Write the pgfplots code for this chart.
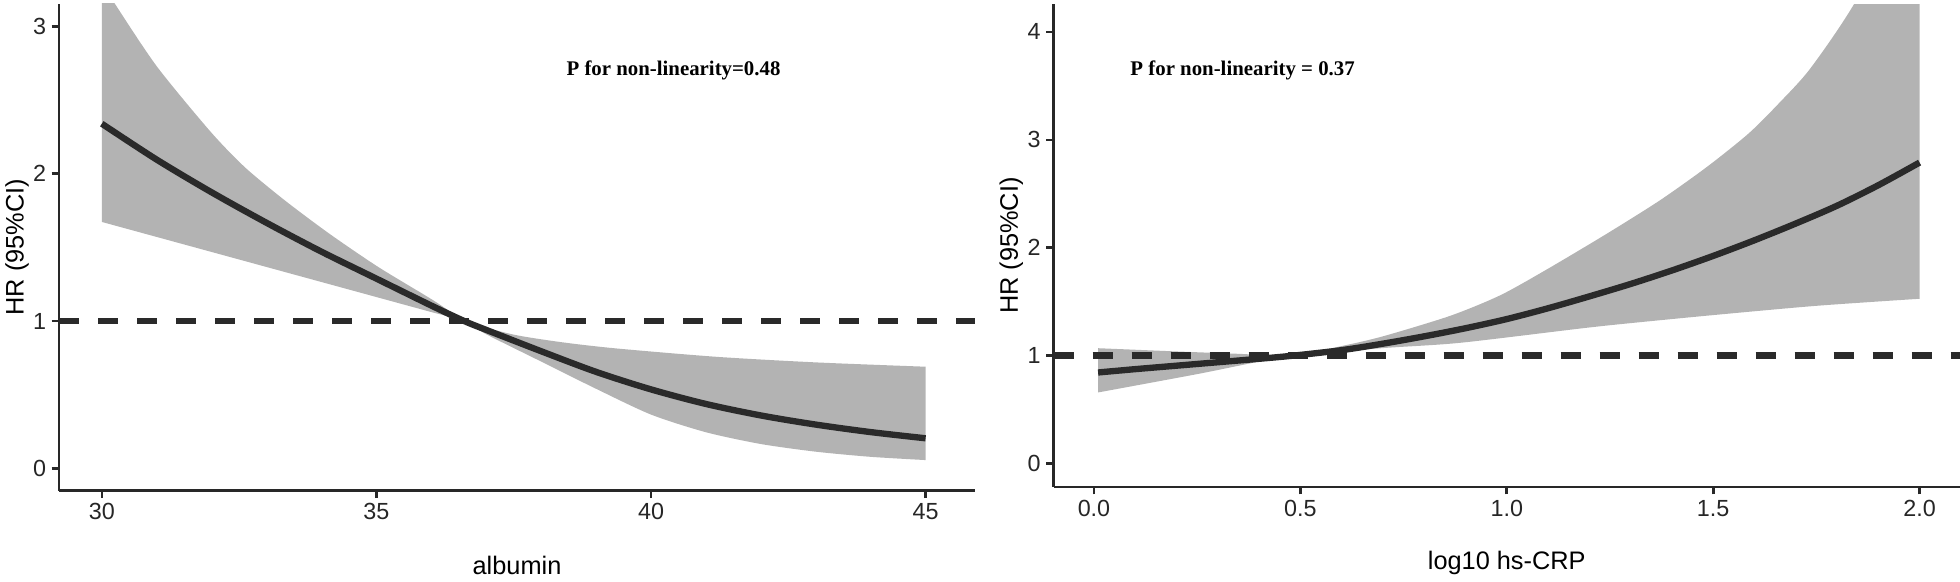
\documentclass[border=0pt]{standalone}
\usepackage{fontspec}
\setmainfont{Liberation Sans}
\newfontfamily\annfont{Liberation Serif}
\usepackage{pgfplots}
\usepackage{pgfplotstable}
\pgfplotsset{compat=1.18}
\usepgfplotslibrary{fillbetween}
\definecolor{curve}{RGB}{42,42,42}
\definecolor{band}{RGB}{179,179,179}
\definecolor{axcol}{RGB}{40,40,40}

\pgfplotstableread{
x hr
30 2.34
31 2.096
32 1.874
33 1.667
34 1.471
35 1.288
36 1.105
36.6 1.0
37 0.94
38 0.795
39 0.655
40 0.536
41 0.437
42 0.359
43 0.297
44 0.246
45 0.204
}\leftcurve

\pgfplotstableread{
x hr
30 3.30
30.237 3.155
31.0 2.73
31.97 2.29
32.6 2.046
33.33 1.82
34.14 1.594
35.03 1.368
36.03 1.142
36.6 1.0
36.82 0.972
37.55 0.904
38.4 0.855
39.37 0.814
41.2 0.757
43.02 0.719
45 0.69
}\leftupper

\pgfplotstableread{
x hr
30 1.673
31 1.571
32 1.469
33 1.367
34 1.265
35 1.163
36 1.061
36.6 1.0
37 0.91
38 0.725
39 0.54
40 0.365
41 0.245
42 0.165
43 0.113
44 0.078
45 0.056
}\leftlower

\pgfplotstableread{
x hr
0.01 0.845
0.1 0.876
0.2 0.908
0.3 0.94
0.4 0.972
0.48 1.0
0.6 1.052
0.7 1.112
0.8 1.18
0.9 1.255
1.0 1.34
1.1 1.44
1.2 1.55
1.3 1.665
1.4 1.79
1.5 1.925
1.6 2.07
1.7 2.225
1.8 2.39
1.9 2.58
2.0 2.79
}\rightcurve

\pgfplotstableread{
x hr
0.01 1.07
0.2 1.04
0.35 1.018
0.48 1.0
0.6 1.09
0.7 1.18
0.863 1.37
0.984 1.56
1.097 1.80
1.242 2.13
1.371 2.44
1.485 2.75
1.586 3.06
1.662 3.35
1.735 3.66
1.84 4.25
2.0 5.35
}\rightupper

\pgfplotstableread{
x hr
0.01 0.66
0.25 0.83
0.48 1.0
0.7 1.071
0.887 1.12
1.186 1.256
1.307 1.305
1.509 1.38
1.751 1.463
2.0 1.528
}\rightlower

\pgfplotsset{rcs/.style={
  scale only axis,
  axis x line*=bottom, axis y line*=left,
  axis line style={-, draw=axcol, line width=0.8pt},
  every tick/.style={draw=axcol, line width=0.8pt},
  tick align=outside, major tick length=2.2pt,
  tick label style={font=\fontsize{7}{8}\selectfont, text=black!85, inner sep=1.5pt},
  /pgf/number format/assume math mode=true,
  label style={font=\fontsize{7.6}{9}\selectfont, text=black},
  ylabel={HR (95\%CI)},
  clip=true,
}}

\begin{document}
\begin{tikzpicture}
\begin{axis}[rcs,
  at={(17.7pt,27.09pt)}, anchor=south west,
  width=274.8pt, height=146.1pt,
  xmin=29.22, xmax=45.9, ymin=-0.152, ymax=3.155,
  xtick={30,35,40,45}, ytick={0,1,2,3},
  xlabel={albumin},
  xlabel style={at={(axis description cs:0.5,-0.1526)}, anchor=center},
  ylabel style={at={(axis description cs:-0.0459,0.5)}, anchor=center},
]
\addplot[draw=none, name path=lu, smooth, tension=0.45] table[x=x,y=hr] {\leftupper};
\addplot[draw=none, name path=ll, smooth, tension=0.45] table[x=x,y=hr] {\leftlower};
\addplot[band, draw=none] fill between[of=lu and ll];
\addplot[curve, line width=2pt, dash pattern=on 6pt off 5.7pt] coordinates {(29.22,1) (45.9,1)};
\addplot[curve, line width=1.9pt, smooth, tension=0.5] table[x=x,y=hr] {\leftcurve};
\node[font=\annfont\bfseries\fontsize{6.25}{7}\selectfont, anchor=base] at (axis cs:40.41,2.668) {P for non-linearity=0.48};
\end{axis}

\begin{axis}[rcs,
  at={(316.05pt,28.2pt)}, anchor=south west,
  width=271.95pt, height=144.8pt,
  xmin=-0.098, xmax=2.098, ymin=-0.216, ymax=4.256,
  xtick={0,0.5,1,1.5,2}, ytick={0,1,2,3,4},
  xticklabel style={/pgf/number format/.cd, fixed, fixed zerofill, precision=1},
  xlabel={log10 hs-CRP},
  xlabel style={at={(axis description cs:0.5,-0.157)}, anchor=center},
  ylabel style={at={(axis description cs:-0.0465,0.5)}, anchor=center},
]
\addplot[draw=none, name path=ru, smooth, tension=0.45] table[x=x,y=hr] {\rightupper};
\addplot[draw=none, name path=rl, smooth, tension=0.45] table[x=x,y=hr] {\rightlower};
\addplot[band, draw=none] fill between[of=ru and rl];
\addplot[curve, line width=2pt, dash pattern=on 6pt off 5.7pt] coordinates {(-0.098,1) (2.098,1)};
\addplot[curve, line width=1.9pt, smooth, tension=0.5] table[x=x,y=hr] {\rightcurve};
\node[font=\annfont\bfseries\fontsize{6.25}{7}\selectfont, anchor=base] at (axis cs:0.36,3.593) {P for non-linearity = 0.37};
\end{axis}
\pgfresetboundingbox
\path[use as bounding box] (0,0) rectangle (588pt,174.3pt);
\end{tikzpicture}
\end{document}
